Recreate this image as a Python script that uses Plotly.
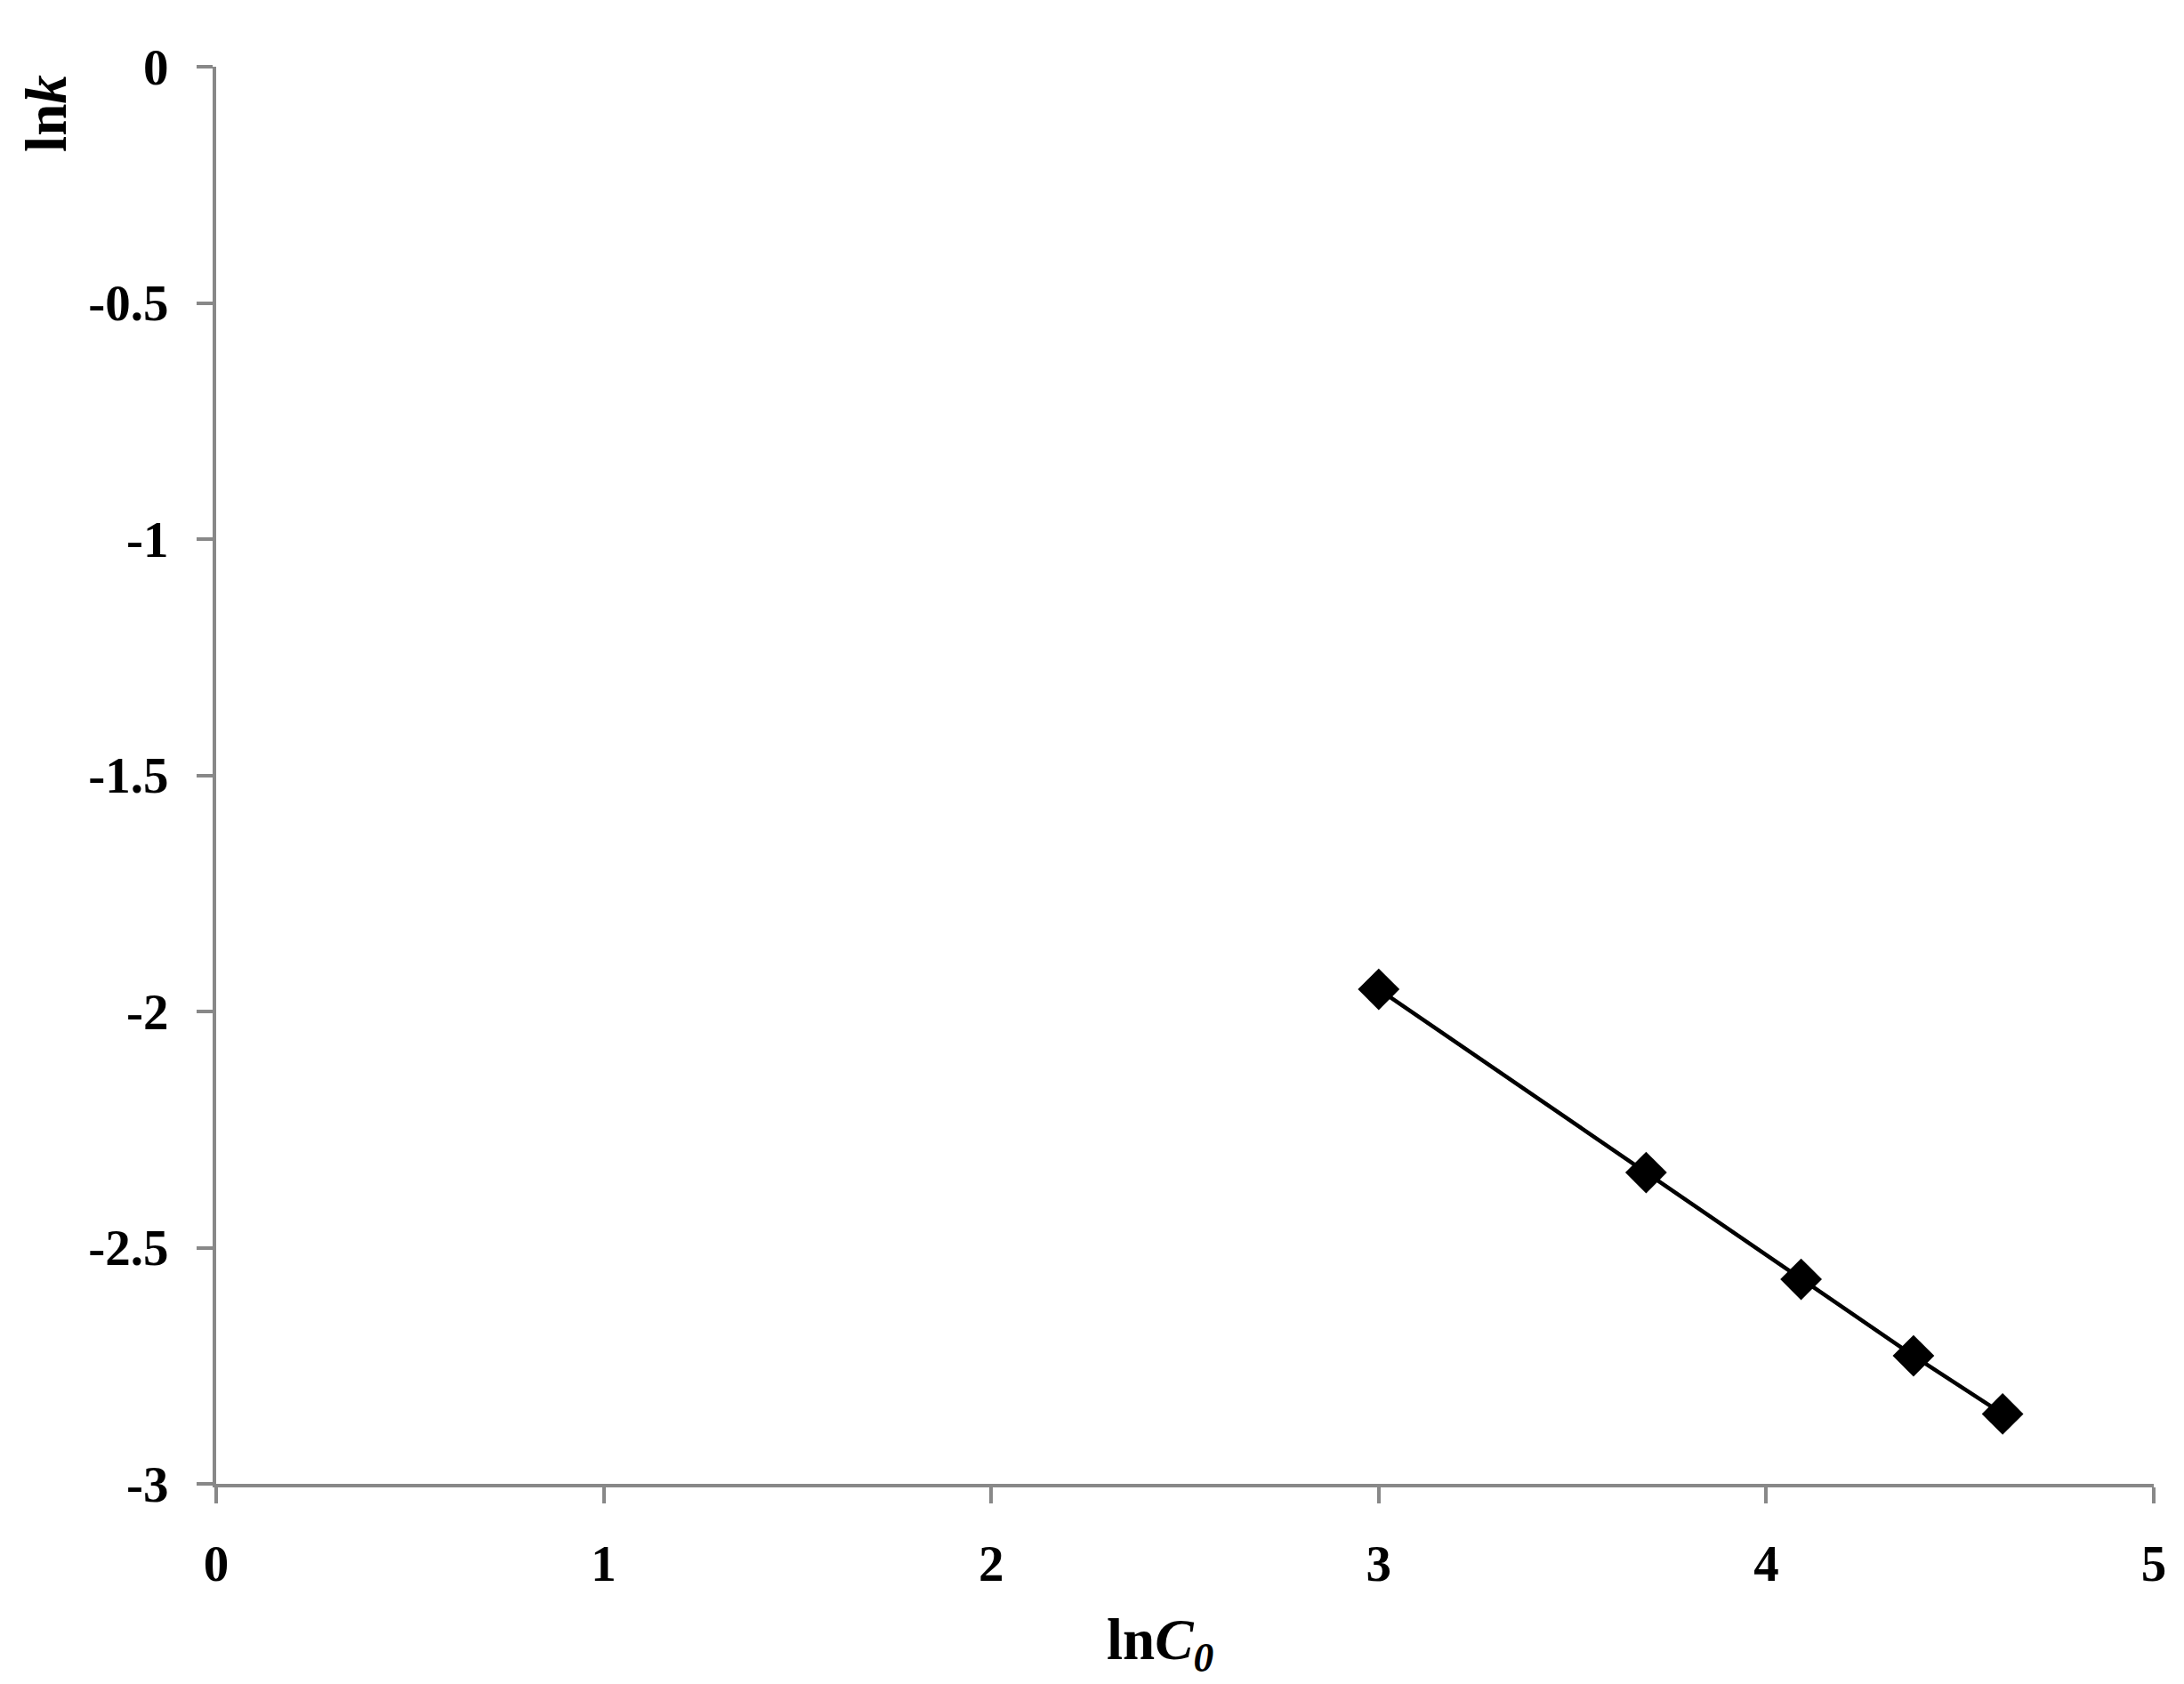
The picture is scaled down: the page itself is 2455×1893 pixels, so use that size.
import plotly.graph_objects as go

ln_c0 = [3.00, 3.69, 4.09, 4.38, 4.61]
ln_k = [-1.953, -2.341, -2.567, -2.729, -2.852]

x_ticks = [0, 1, 2, 3, 4, 5]
y_ticks = [0, -0.5, -1, -1.5, -2, -2.5, -3]

FONT = "Liberation Serif"
AXIS_COLOR = "#888888"

fig = go.Figure()
fig.add_trace(go.Scatter(
    x=ln_c0, y=ln_k, mode="lines+markers",
    line=dict(color="black", width=4.5),
    marker=dict(symbol="diamond", size=36, color="black"),
    showlegend=False,
))

axis_common = dict(
    showline=True, linecolor=AXIS_COLOR, linewidth=4,
    ticks="outside", ticklen=18, tickwidth=4, tickcolor=AXIS_COLOR,
    showgrid=False, zeroline=False, automargin=False,
    tickfont=dict(family=FONT, size=57, color="black", weight="bold"),
)

fig.update_xaxes(range=[0, 5], tickvals=x_ticks, ticktext=[str(v) for v in x_ticks],
                 ticklabelstandoff=19, **axis_common)
fig.update_yaxes(range=[-3, 0], tickvals=y_ticks, ticktext=[f"{v:g}" for v in y_ticks],
                 ticklabelstandoff=20, **axis_common)

fig.add_annotation(text="<b>ln<i>k</i></b>", xref="paper", yref="paper",
                   x=-0.088, y=0.967, textangle=-90, showarrow=False,
                   xanchor="center", yanchor="middle",
                   font=dict(family=FONT, size=65, color="black"))
fig.add_annotation(text="<b>ln<i>C<sub>0</sub></i></b>", xref="paper", yref="paper",
                   x=0.487, y=-0.113, showarrow=False,
                   xanchor="center", yanchor="middle",
                   font=dict(family=FONT, size=65, color="black"))

fig.update_layout(
    width=2455, height=1893,
    margin=dict(l=235, r=42, t=67, b=233),
    paper_bgcolor="white", plot_bgcolor="white",
)

fig.write_html("out.html")
